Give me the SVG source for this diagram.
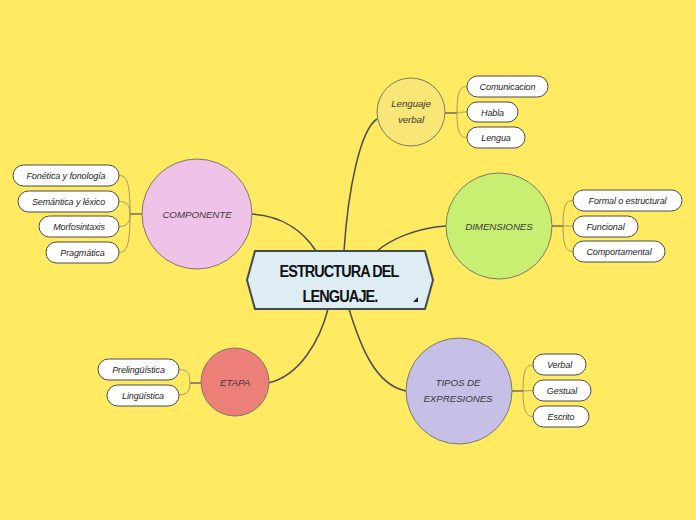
<svg xmlns="http://www.w3.org/2000/svg" width="696" height="520" viewBox="0 0 696 520">
<style>
.main{fill:none;stroke:#484e54;stroke-width:1.5}
.br{fill:none;stroke:#a39b5e;stroke-width:1}
.stub{fill:none;stroke:#484e54;stroke-width:1.2}
.circ{stroke:#7d7a66;stroke-width:1}
.leaf rect{fill:#ffffff;stroke:#4a4a4a;stroke-width:1}
.lt{font-family:"Liberation Sans","DejaVu Sans",sans-serif;font-style:italic;font-size:9px;fill:#222;text-anchor:middle;letter-spacing:-0.1px}
.ct{font-family:"Liberation Sans","DejaVu Sans",sans-serif;font-style:italic;font-size:9.8px;fill:#3a3a3a;text-anchor:middle;letter-spacing:-0.1px}
.tt{font-family:"Liberation Sans","DejaVu Sans",sans-serif;font-weight:bold;font-size:16px;fill:#111;text-anchor:middle;letter-spacing:-1px}
</style>
<rect width="696" height="520" fill="#ffea62"/>
<g id="connectors">
<path class="main" d="M252,214 C285,216 305,234 316,251"/>
<path class="main" d="M377,119 C360,130 348,190 344,251"/>
<path class="main" d="M446,226 C415,228 390,240 377,251"/>
<path class="main" d="M268,383 C300,376 320,340 328,309"/>
<path class="main" d="M406,391 C375,385 360,345 349,309"/>
<path class="stub" d="M142,214 H130"/>
<path class="br" d="M130,214 C130,182 127,175.5 119,175.5 M130,214 C130,205 127,201.5 119,201.5 M130,214 C130,223 127,226.5 119,226.5 M130,214 C130,245 127,252.5 119,252.5"/>
<path class="stub" d="M445,113 H457"/>
<path class="br" d="M457,113 C457,92 460,86.5 467,86.5 M457,113 C457,113 460,112 467,112 M457,113 C457,132 460,137.5 467,137.5"/>
<path class="stub" d="M552,226 H563"/>
<path class="br" d="M563,226 C563,205 566,200.5 573,200.5 M563,226 L573,226 M563,226 C563,246 566,251.5 573,251.5"/>
<path class="stub" d="M201,383 H190"/>
<path class="br" d="M190,383 C190,373 187,369.5 179,369.5 M190,383 C190,391 187,395 179,395"/>
<path class="stub" d="M512,391 H523"/>
<path class="br" d="M523,391 C523,370 526,365 533,365 M523,391 L533,390.5 M523,391 C523,410 526,416.5 533,416.5"/>
</g>
<g id="center">
<polygon points="255,251 425,251 433,280 425,309 255,309 247,280" fill="#deedf4" stroke="#414b50" stroke-width="2"/>
<text class="tt" x="339" y="277" textLength="119" lengthAdjust="spacingAndGlyphs">ESTRUCTURA DEL</text>
<text class="tt" x="340" y="302" textLength="75" lengthAdjust="spacingAndGlyphs">LENGUAJE.</text>
<polygon points="418,297 418,302 413,302" fill="#222"/>
</g>
<g id="componente">
<circle class="circ" cx="197" cy="214" r="55" fill="#efc3e7"/>
<text class="ct" x="197" y="217.5">COMPONENTE</text>
</g>
<g id="fonetica" class="leaf"><rect x="13" y="165" width="106" height="21" rx="10.5"/><text class="lt" x="66" y="179">Fonética y fonología</text></g>
<g id="semantica" class="leaf"><rect x="18" y="191" width="101" height="21" rx="10.5"/><text class="lt" x="68.5" y="205">Semántica y léxico</text></g>
<g id="morfosintaxis" class="leaf"><rect x="39" y="216" width="80" height="21" rx="10.5"/><text class="lt" x="79" y="230">Morfosintaxis</text></g>
<g id="pragmatica" class="leaf"><rect x="46" y="242" width="73" height="21" rx="10.5"/><text class="lt" x="82.5" y="256">Pragmática</text></g>
<g id="lenguaje-verbal">
<circle class="circ" cx="411" cy="112" r="34" fill="#f8e676"/>
<text class="ct" x="411" y="107">Lenguaje</text>
<text class="ct" x="411" y="123">verbal</text>
</g>
<g id="comunicacion" class="leaf"><rect x="467" y="76" width="81" height="21" rx="10.5"/><text class="lt" x="507.5" y="90">Comunicacion</text></g>
<g id="habla" class="leaf"><rect x="467" y="102" width="51" height="20" rx="10"/><text class="lt" x="492.5" y="115.5">Habla</text></g>
<g id="lengua" class="leaf"><rect x="467" y="127" width="58" height="21" rx="10.5"/><text class="lt" x="496" y="141">Lengua</text></g>
<g id="dimensiones">
<circle class="circ" cx="499" cy="226" r="53" fill="#c8ee72"/>
<text class="ct" x="499" y="229.5">DIMENSIONES</text>
</g>
<g id="formal" class="leaf"><rect x="573" y="190" width="109" height="21" rx="10.5"/><text class="lt" x="627.5" y="204">Formal o estructural</text></g>
<g id="funcional" class="leaf"><rect x="573" y="216" width="65" height="21" rx="10.5"/><text class="lt" x="605.5" y="230">Funcional</text></g>
<g id="comportamental" class="leaf"><rect x="573" y="241" width="92" height="21" rx="10.5"/><text class="lt" x="619" y="255">Comportamental</text></g>
<g id="etapa">
<circle class="circ" cx="235" cy="382" r="34" fill="#ec8078"/>
<text class="ct" x="235" y="386">ETAPA</text>
</g>
<g id="prelinguistica" class="leaf"><rect x="98" y="359" width="81" height="21" rx="10.5"/><text class="lt" x="138.5" y="373">Prelingüística</text></g>
<g id="linguistica" class="leaf"><rect x="107" y="385" width="72" height="21" rx="10.5"/><text class="lt" x="143" y="399">Lingüística</text></g>
<g id="tipos">
<circle class="circ" cx="459" cy="391" r="53" fill="#c6c0e6"/>
<text class="ct" x="458" y="386">TIPOS DE</text>
<text class="ct" x="458" y="402">EXPRESIONES</text>
</g>
<g id="verbal" class="leaf"><rect x="533" y="354" width="53" height="21" rx="10.5"/><text class="lt" x="559.5" y="368">Verbal</text></g>
<g id="gestual" class="leaf"><rect x="533" y="380" width="58" height="21" rx="10.5"/><text class="lt" x="562" y="394">Gestual</text></g>
<g id="escrito" class="leaf"><rect x="533" y="406" width="56" height="21" rx="10.5"/><text class="lt" x="561" y="420">Escrito</text></g>
</svg>
